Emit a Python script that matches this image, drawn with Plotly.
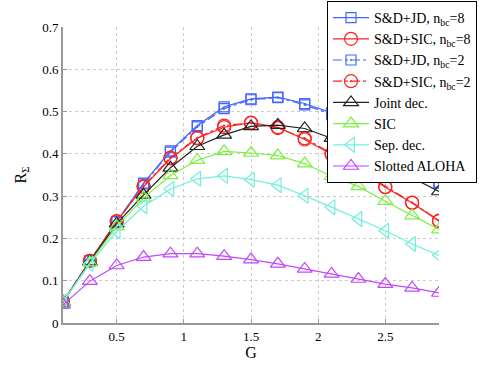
import plotly.graph_objects as go

# offered load G
G = [0.1, 0.3, 0.5, 0.7, 0.9, 1.1, 1.3, 1.5, 1.7, 1.9, 2.1, 2.3, 2.5, 2.7, 2.9]

# throughput curves
sd_jd_8 = [0.050, 0.147, 0.240, 0.331, 0.407, 0.467, 0.511, 0.530, 0.534, 0.519, 0.497, 0.467, 0.429, 0.383, 0.333]
sd_sic_8 = [0.050, 0.147, 0.241, 0.322, 0.389, 0.437, 0.463, 0.474, 0.463, 0.434, 0.399, 0.361, 0.321, 0.284, 0.241]
sd_jd_2 = [0.050, 0.147, 0.239, 0.329, 0.404, 0.464, 0.507, 0.528, 0.533, 0.516, 0.493, 0.463, 0.426, 0.381, 0.331]
sd_sic_2 = [0.050, 0.147, 0.240, 0.324, 0.391, 0.438, 0.467, 0.473, 0.461, 0.437, 0.401, 0.362, 0.322, 0.285, 0.242]
joint_dec = [0.050, 0.145, 0.235, 0.303, 0.367, 0.418, 0.445, 0.465, 0.468, 0.460, 0.437, 0.408, 0.376, 0.344, 0.311]
sic = [0.050, 0.143, 0.228, 0.296, 0.349, 0.385, 0.406, 0.402, 0.396, 0.377, 0.347, 0.323, 0.288, 0.254, 0.221]
sep_dec = [0.050, 0.140, 0.217, 0.276, 0.317, 0.341, 0.348, 0.339, 0.326, 0.301, 0.274, 0.246, 0.218, 0.187, 0.160]
aloha = [0.043, 0.099, 0.136, 0.156, 0.164, 0.164, 0.158, 0.150, 0.140, 0.128, 0.116, 0.104, 0.092, 0.083, 0.071]

series = [
    ("S&D+JD, n<sub>bc</sub>=8", sd_jd_8, "#4466ff", "square-open", "solid", 10),
    ("S&D+SIC, n<sub>bc</sub>=8", sd_sic_8, "#ff2020", "circle-open", "solid", 13),
    ("S&D+JD, n<sub>bc</sub>=2", sd_jd_2, "#4466ff", "square-open-dot", "dashdot", 10),
    ("S&D+SIC, n<sub>bc</sub>=2", sd_sic_2, "#ff2020", "circle-open-dot", "dashdot", 13),
    ("Joint dec.", joint_dec, "#222222", "triangle-up-open", "solid", 13),
    ("SIC", sic, "#7cf040", "triangle-up-open", "solid", 13),
    ("Sep. dec.", sep_dec, "#70f0dc", "triangle-left-open", "solid", 13),
    ("Slotted ALOHA", aloha, "#bf48ff", "triangle-up-open", "solid", 13),
]

fig = go.Figure()
for name, y, col, sym, dash, sz in series:
    fig.add_trace(go.Scatter(x=G, y=y, name=name, mode='lines+markers',
                             line=dict(color=col, width=1.2, dash=dash),
                             marker=dict(symbol=sym, size=sz, color=col,
                                         line=dict(color=col, width=1.2))))

serif = "'Liberation Serif', 'Times New Roman', Times, serif"
fig.update_layout(
    width=485, height=365,
    margin=dict(l=63, r=46, t=27, b=42, autoexpand=False),
    paper_bgcolor="white", plot_bgcolor="white",
    font=dict(family=serif, size=13, color="black"),
    showlegend=True,
    legend=dict(x=327 / 485, y=1 - 1 / 365, xref="container", yref="container",
                xanchor="left", yanchor="top",
                bgcolor="white", bordercolor="black", borderwidth=1,
                font=dict(family=serif, size=14, color="black"),
                tracegroupgap=0, itemwidth=36),
)
fig.update_xaxes(range=[0.1, 2.9], tickvals=[0.5, 1, 1.5, 2, 2.5],
                 ticktext=["0.5", "1", "1.5", "2", "2.5"],
                 showline=True, linecolor="#999999", linewidth=2,
                 ticks="inside", ticklen=4, tickcolor="#999999",
                 showgrid=True, gridcolor="#cccccc", griddash="dot", gridwidth=1,
                 zeroline=False, title=dict(text="G", standoff=4))
fig.update_yaxes(range=[0, 0.7], tickvals=[0, 0.1, 0.2, 0.3, 0.4, 0.5, 0.6, 0.7],
                 ticktext=["0", "0.1", "0.2", "0.3", "0.4", "0.5", "0.6", "0.7"],
                 showline=True, linecolor="#999999", linewidth=2,
                 ticks="inside", ticklen=4, tickcolor="#999999",
                 showgrid=True, gridcolor="#cccccc", griddash="dot", gridwidth=1,
                 zeroline=False, title=dict(text="R<sub>Σ</sub>", standoff=12))

# page body has a default 8px margin; drop it so the figure fills the window
fig.write_html("out.html", config={"displayModeBar": False},
               post_script="document.body.style.margin='0';")
